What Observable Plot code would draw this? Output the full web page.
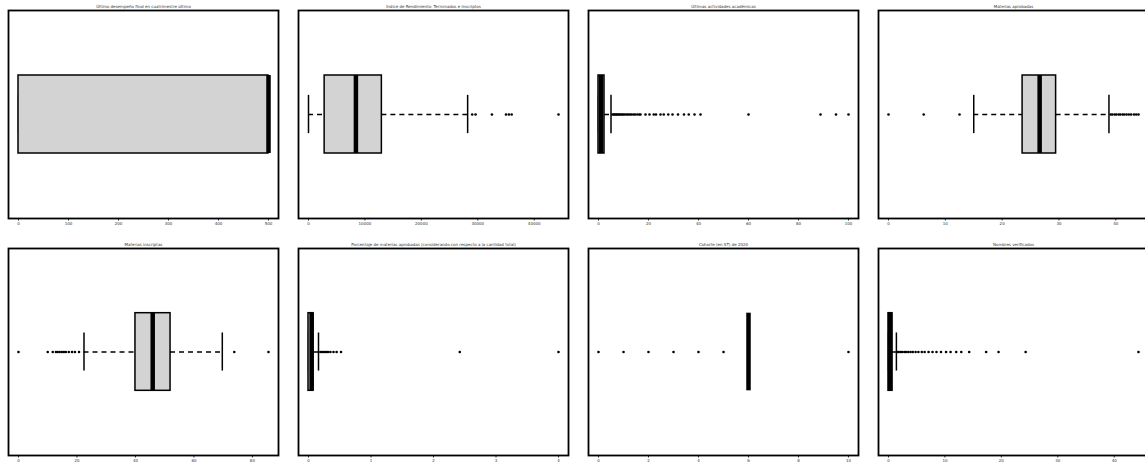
<!DOCTYPE html>
<html><head><meta charset="utf-8">
<script src="https://cdn.jsdelivr.net/npm/d3@7"></script>
<script src="https://cdn.jsdelivr.net/npm/@observablehq/plot@0.6"></script>
<style>
html,body{margin:0;padding:0;background:#fff;overflow:hidden;width:1145px;height:463px}
#wrap{position:relative;width:1145px;height:463px;overflow:hidden}
.panel{position:absolute;width:290px}
.panel svg{max-width:none !important;width:290px}
</style></head><body><div id="wrap"></div>
<script>
const titles = [
  "Último desempeño final en cuatrimestre último",
  "Índice de Rendimiento: Terminados e Inscriptos",
  "Últimas actividades académicas",
  "Materias aprobadas",
  "Materias inscriptas",
  "Porcentaje de materias aprobadas (considerando con respecto a la cantidad total)",
  "Cohorte (en ST) de 2020",
  "Nombres verificados"
];
const whiskerLow  = [0, 0, 0, 15, 22.4, 0, 6, 0];
const quartile1   = [0, 2860, 0, 23.6, 40, 0, 6, 0];
const medians     = [500, 8400, 1, 26.6, 45.9, 0.05, 6, 0.3];
const quartile3   = [500, 13000, 2.4, 29.5, 52, 0.08, 6, 0.7];
const whiskerHigh = [500, 28200, 5, 38.8, 69.7, 0.16, 6, 1.4];
const outliers1 = [];
const outliers2 = [29000, 29600, 32500, 35000, 35500, 36000, 44300];
const outliers3 = [5.6, 6.1, 6.5, 7.0, 7.4, 7.9, 8.3, 8.8, 9.4, 9.9, 10.5, 11.2, 11.8, 12.5, 13.1, 13.9, 14.6, 15.5, 16.3, 16.8,
                   18.8, 20.4, 22.1, 23.0, 24.8, 26.1, 27.9, 29.6, 31.8, 34.2, 36.1, 38.4, 40.8, 60, 88.8, 95, 100];
const outliers4 = [0, 6.2, 12.5, 39.1, 39.4, 39.8, 40.1, 40.5, 40.8, 41.2, 41.5, 41.9, 42.3, 42.7, 43.2, 43.6, 44.0];
const outliers5 = [0, 10, 11.7, 12.8, 13.4, 14.1, 14.8, 15.5, 16.2, 17.2, 18.3, 19.3, 20.7, 73.8, 85.5];
const outliers6 = [0.19, 0.22, 0.25, 0.28, 0.31, 0.35, 0.40, 0.45, 0.52, 2.42, 4.0];
const outliers7 = [0, 1, 2, 3, 4, 5, 10];
const outliers8 = [1.5, 1.8, 2.1, 2.4, 2.8, 3.1, 3.5, 3.9, 4.3, 4.8, 5.3, 5.9, 6.4, 7.1, 7.8, 8.5, 9.3,
                   10.2, 11, 12, 12.9, 14.3, 17.3, 19.5, 24.3, 44.3];
const outliers = [outliers1, outliers2, outliers3, outliers4, outliers5, outliers6, outliers7, outliers8];
const tickValues = [
  [0, 100, 200, 300, 400, 500],
  [0, 10000, 20000, 30000, 40000],
  [0, 20, 40, 60, 80, 100],
  [0, 10, 20, 30, 40],
  [0, 20, 40, 60, 80],
  [0, 1, 2, 3, 4],
  [0, 2, 4, 6, 8, 10],
  [0, 10, 20, 30, 40]
];

const wrap = document.getElementById("wrap");
function panel(i) {
  const lo = Math.min(whiskerLow[i], ...outliers[i]);
  const hi = Math.max(whiskerHigh[i], ...outliers[i]);
  const pad = (hi - lo) * 0.04;
  const stats = [{lo: whiskerLow[i], q1: quartile1[i], med: medians[i], q3: quartile3[i], hi: whiskerHigh[i]}];
  const bw = 0.1875, cw = 0.092;
  const row2 = i >= 4;
  return Plot.plot({
    width: 290, height: row2 ? 226 : 230,
    marginLeft: 8, marginRight: 12, marginTop: 10, marginBottom: row2 ? 9 : 12,
    x: {domain: [lo - pad, hi + pad], ticks: tickValues[i], tickSize: 2.5, tickPadding: 1, tickFormat: d => String(d), label: null},
    y: {domain: [0, 1], axis: null},
    style: {fontSize: "4px", fontFamily: "DejaVu Sans, sans-serif", background: "white", color: "#333"},
    marks: [
      Plot.ruleY(stats, {x1: "lo", x2: "q1", y: 0.5, stroke: "black", strokeWidth: 1.5, strokeDasharray: "5,4"}),
      Plot.ruleY(stats, {x1: "q3", x2: "hi", y: 0.5, stroke: "black", strokeWidth: 1.5, strokeDasharray: "5,4"}),
      Plot.ruleX(stats, {x: "lo", y1: 0.5 - cw, y2: 0.5 + cw, stroke: "black", strokeWidth: 1.5}),
      Plot.ruleX(stats, {x: "hi", y1: 0.5 - cw, y2: 0.5 + cw, stroke: "black", strokeWidth: 1.5}),
      Plot.rect(stats, {x1: "q1", x2: "q3", y1: 0.5 - bw, y2: 0.5 + bw, fill: "#d3d3d3", stroke: "black", strokeWidth: 1.5}),
      Plot.ruleX(stats, {x: "med", y1: 0.5 - bw, y2: 0.5 + bw, stroke: "black", strokeWidth: 4.5}),
      Plot.dot(outliers[i], {x: d => d, y: 0.5, r: 1.3, fill: "black", stroke: null}),
      Plot.frame({stroke: "black", strokeWidth: 1.8}),
      Plot.text([titles[i]], {frameAnchor: "top", dy: -5, text: d => d, fontSize: 4, fill: "#333"})
    ]
  });
}
for (let i = 0; i < 8; i++) {
  const div = document.createElement("div");
  div.className = "panel";
  div.style.left = (290 * (i % 4)) + "px";
  div.style.top = (i < 4 ? 0 : 238) + "px";
  div.appendChild(panel(i));
  wrap.appendChild(div);
}
</script></body></html>
